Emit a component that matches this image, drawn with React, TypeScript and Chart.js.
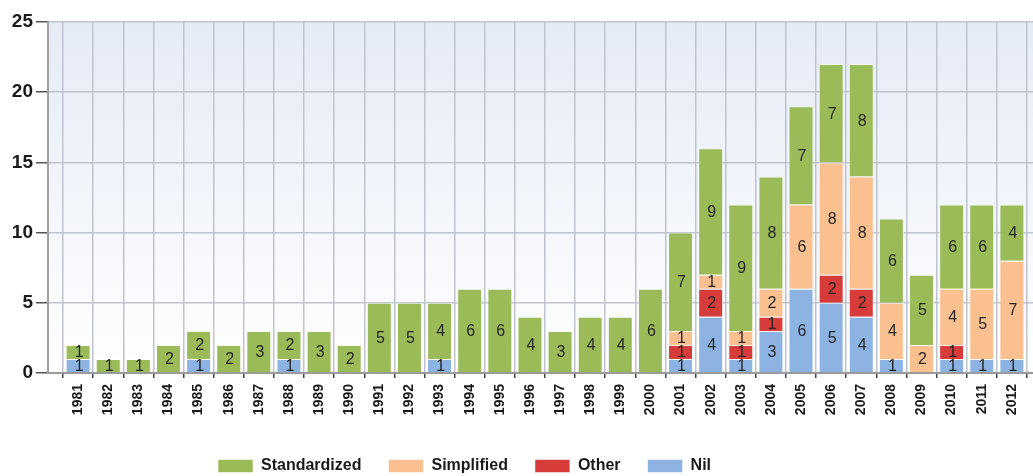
import React, { useEffect, useRef } from 'react';
import { Chart, registerables } from 'chart.js';

Chart.register(...registerables);

const years = [
  '1981', '1982', '1983', '1984', '1985', '1986', '1987', '1988', '1989', '1990',
  '1991', '1992', '1993', '1994', '1995', '1996', '1997', '1998', '1999', '2000',
  '2001', '2002', '2003', '2004', '2005', '2006', '2007', '2008', '2009', '2010',
  '2011', '2012',
];
const nilValues = [1, 0, 0, 0, 1, 0, 0, 1, 0, 0, 0, 0, 1, 0, 0, 0, 0, 0, 0, 0, 1, 4, 1, 3, 6, 5, 4, 1, 0, 1, 1, 1];
const otherValues = [0, 0, 0, 0, 0, 0, 0, 0, 0, 0, 0, 0, 0, 0, 0, 0, 0, 0, 0, 0, 1, 2, 1, 1, 0, 2, 2, 0, 0, 1, 0, 0];
const simplifiedValues = [0, 0, 0, 0, 0, 0, 0, 0, 0, 0, 0, 0, 0, 0, 0, 0, 0, 0, 0, 0, 1, 1, 1, 2, 6, 8, 8, 4, 2, 4, 5, 7];
const standardizedValues = [1, 1, 1, 2, 2, 2, 3, 2, 3, 2, 5, 5, 4, 6, 6, 4, 3, 4, 4, 6, 7, 9, 9, 8, 7, 7, 8, 6, 5, 6, 6, 4];
const yTicks = [0, 5, 10, 15, 20, 25];

const FONT = '"Liberation Sans", Arial, sans-serif';

const pad = (arr: number[]) => [null, ...arr.map((v) => (v === 0 ? null : v)), null];

const bgPlugin = {
  id: 'plotBg',
  beforeDraw(chart: any) {
    const { ctx, chartArea } = chart;
    if (!chartArea) return;
    const g = ctx.createLinearGradient(0, chartArea.top, 0, chartArea.bottom);
    g.addColorStop(0, '#e5ebf6');
    g.addColorStop(1, '#ffffff');
    ctx.save();
    ctx.fillStyle = g;
    ctx.fillRect(chartArea.left, chartArea.top, chartArea.right - chartArea.left, chartArea.bottom - chartArea.top);
    ctx.restore();
  },
};

const legendShift = {
  id: 'legendShift',
  afterLayout(chart: any) {
    const lg = chart.legend;
    if (!lg) return;
    const dx = 191 - lg.left;
    const dy = 8;
    lg.left += dx;
    lg.right += dx;
    lg.top += dy;
    lg.bottom += dy;
  },
};

const valueLabels = {
  id: 'valueLabels',
  afterDatasetsDraw(chart: any) {
    const ctx = chart.ctx;
    ctx.save();
    ctx.font = `16px ${FONT}`;
    ctx.fillStyle = '#262626';
    ctx.textAlign = 'center';
    ctx.textBaseline = 'middle';
    chart.data.datasets.forEach((ds: any, i: number) => {
      const meta = chart.getDatasetMeta(i);
      meta.data.forEach((el: any, j: number) => {
        const v = ds.data[j];
        if (v == null || v === 0) return;
        const { x, y, base } = el.getProps(['x', 'y', 'base'], true);
        ctx.fillText(String(v), x + 1, (y + base) / 2 + 1);
      });
    });
    ctx.restore();
  },
};

export default function App() {
  const ref = useRef<HTMLCanvasElement | null>(null);

  useEffect(() => {
    if (!ref.current) return;
    const labels = ['', ...years, ''];
    const border = 'rgba(255,255,255,0.55)';
    const chart = new Chart(ref.current, {
      type: 'bar',
      data: {
        labels,
        datasets: [
          { label: 'Nil', data: pad(nilValues), backgroundColor: '#8db3e2', borderColor: border, borderWidth: 1 },
          { label: 'Other', data: pad(otherValues), backgroundColor: '#d63c3a', borderColor: border, borderWidth: 1 },
          { label: 'Simplified', data: pad(simplifiedValues), backgroundColor: '#fac08f', borderColor: border, borderWidth: 1 },
          { label: 'Standardized', data: pad(standardizedValues), backgroundColor: '#9bbb59', borderColor: border, borderWidth: 1 },
        ] as any,
      },
      options: {
        animation: false,
        responsive: false,
        maintainAspectRatio: false,
        layout: { padding: { top: 22, left: 0, right: 0, bottom: 0 } },
        datasets: { bar: { categoryPercentage: 1, barPercentage: 0.83 } } as any,
        plugins: {
          tooltip: { enabled: false },
          legend: {
            position: 'bottom',
            align: 'start',
            reverse: true,
            labels: {
              boxWidth: 35,
              boxHeight: 13,
              padding: 27,
              color: '#1a1a1a',
              font: { family: FONT, size: 16, weight: 'bold' },
            },
          },
        },
        scales: {
          x: {
            stacked: true,
            offset: false,
            grid: { color: '#bfc3cd', lineWidth: 1.5, tickColor: '#444', tickLength: 5 },
            border: { color: '#9a9a9a', width: 2 },
            ticks: {
              autoSkip: false,
              minRotation: 90,
              maxRotation: 90,
              padding: 6,
              color: '#1a1a1a',
              font: { family: FONT, size: 14, weight: 'bold' },
            },
            afterFit(scale: any) {
              scale.height = 50;
              scale.paddingLeft = 0;
              scale.paddingRight = 0;
            },
          },
          y: {
            stacked: true,
            min: 0,
            max: 25,
            afterBuildTicks(scale: any) {
              scale.ticks = yTicks.map((v) => ({ value: v }));
            },
            grid: { color: '#bfc3cd', lineWidth: 1.5, tickColor: '#555', tickLength: 12 },
            border: { color: '#a0a0a0', width: 2 },
            ticks: {
              padding: 3,
              color: '#1a1a1a',
              font: { family: FONT, size: 19, weight: 'bold' },
            },
            afterFit(scale: any) {
              scale.width = 48;
            },
          },
        },
      } as any,
      plugins: [bgPlugin, legendShift, valueLabels],
    });
    return () => chart.destroy();
  }, []);

  return (
    <div style={{ position: 'fixed', left: 0, top: 0, width: 1033, height: 476, overflow: 'hidden', background: '#fff' }}>
      <canvas ref={ref} width={1042} height={476} style={{ display: 'block' }} />
    </div>
  );
}
